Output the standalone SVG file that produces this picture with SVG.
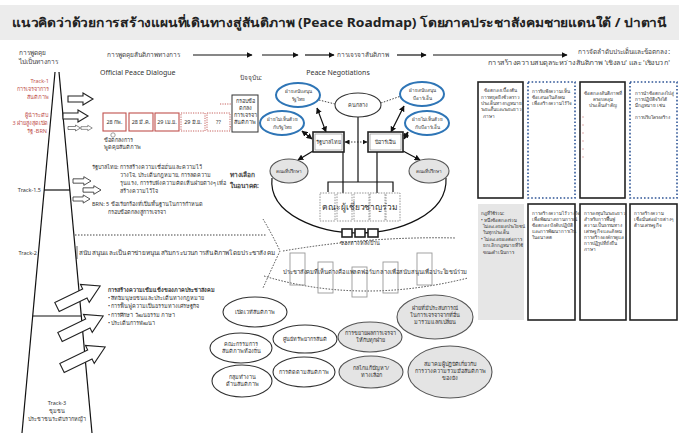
<svg xmlns="http://www.w3.org/2000/svg" width="679" height="433" viewBox="0 0 679 433">
<style>
text{font-family:"Noto Sans","DejaVu Sans",sans-serif;fill:#333;font-size:5.5px}
.ttl{font-size:12.5px;font-weight:bold;fill:#222}
.hd{font-size:7px;fill:#333}
.lb{font-size:6.5px;fill:#444}
.sm{font-size:4.6px}
.red{fill:#c0504d}
.b{font-weight:bold}
.ln{stroke:#111;stroke-width:1.2;fill:none}
.box{fill:#fff;stroke:#222;stroke-width:1.6}
.dbl{fill:#fff;stroke:#2f5597;stroke-width:1.6;stroke-dasharray:1.6 2}
.ell{fill:#fff;stroke:#333;stroke-width:1.1}
.gell{fill:#e4e4e4;stroke:#555;stroke-width:1.1}
.bell{fill:#fff;stroke:#2e75b6;stroke-width:2}
.dot{stroke:#444;stroke-width:1;stroke-dasharray:1.5 1.5;fill:none}
.ba{fill:#fff;stroke:#222;stroke-width:1.1}
.date{fill:#fff;stroke:#c0504d;stroke-width:1.1}
.dated{fill:#fff;stroke:#c0504d;stroke-width:0.9;stroke-dasharray:1.2 1.2}
.exp{fill:#fff;stroke:#888;stroke-width:0.9;stroke-dasharray:1.5 1.2}
.plank{fill:none;stroke:#999;stroke-width:0.9}
.c{text-anchor:middle}
.e{text-anchor:end}
</style>
<defs>
<marker id="ah" viewBox="0 0 10 10" refX="9" refY="5" markerWidth="5" markerHeight="5" orient="auto-start-reverse"><path d="M0,0 L10,5 L0,10 Z" fill="#111"/></marker>
<path id="blk" d="M0,-3 H15 V-6 L25,0 L15,6 V3 H0 Z"/>
<path id="blk3" d="M0,-5 H31 V-10 L48,0 L31,10 V5 H0 Z"/>
</defs>

<rect x="0" y="5" width="679" height="35" fill="#ececec"/>
<text class="ttl" x="12" y="27" textLength="655" lengthAdjust="spacingAndGlyphs">แนวคิดว่าด้วยการสร้างแผนที่เดินทางสู่สันติภาพ (Peace Roadmap) โดยภาคประชาสังคมชายแดนใต้ / ปาตานี</text>

<g id="connectors">
  <line class="ln" x1="193" y1="55" x2="252" y2="55" marker-end="url(#ah)"/>
  <line class="ln" x1="262" y1="55" x2="298" y2="55" marker-end="url(#ah)"/>
  <line class="ln" x1="305" y1="55" x2="334" y2="55" marker-end="url(#ah)"/>
  <line class="ln" x1="397" y1="55" x2="426" y2="55" marker-end="url(#ah)"/>
  <line class="ln" x1="433" y1="55" x2="567" y2="55" marker-end="url(#ah)"/>
  <line x1="220" y1="104" x2="232" y2="104" stroke="#c0504d" stroke-width="0.9" stroke-dasharray="1.2 1.2"/>
  <line x1="220" y1="127" x2="232" y2="127" stroke="#c0504d" stroke-width="0.9" stroke-dasharray="1.2 1.2"/>
  <line class="dot" x1="319" y1="100" x2="335" y2="104"/>
  <line class="dot" x1="381" y1="103" x2="401" y2="96"/>
  <line class="ln" x1="317" y1="108" x2="326" y2="132" marker-start="url(#ah)" marker-end="url(#ah)" stroke-width="1"/>
  <line class="ln" x1="302" y1="131" x2="312" y2="139" marker-start="url(#ah)" marker-end="url(#ah)" stroke-width="1"/>
  <line class="ln" x1="404" y1="106" x2="391" y2="132" marker-start="url(#ah)" marker-end="url(#ah)" stroke-width="1"/>
  <line class="ln" x1="408" y1="132" x2="404" y2="139" marker-start="url(#ah)" marker-end="url(#ah)" stroke-width="1"/>
  <line class="dot" x1="345" y1="142" x2="367" y2="142" marker-start="url(#ah)" marker-end="url(#ah)"/>
  <line class="ln" x1="298" y1="160" x2="313" y2="151" marker-start="url(#ah)" stroke-width="1"/>
  <line class="ln" x1="420" y1="160" x2="403" y2="151" marker-start="url(#ah)" stroke-width="1"/>
  <line class="ln" x1="358" y1="117" x2="358" y2="182"/>
  <path class="ln" d="M328,192 V182 H393 V192"/>
  <line class="ln" x1="343" y1="152" x2="343" y2="194"/>
  <line class="ln" x1="377" y1="152" x2="377" y2="194"/>
  <path class="ln" d="M272,178 C268,215 320,233 358,233 C398,233 448,215 446,178"/>
  <line x1="77" y1="246" x2="77" y2="259" stroke="#444" stroke-width="0.8"/>
  <line class="dot" x1="75" y1="235" x2="266" y2="235"/>
  <path class="dot" d="M263,219 Q272,234 280,251 Q271,270 263,288"/>
  <path class="dot" d="M283,251 Q370,236 456,238"/>
  <path class="dot" d="M264,276 Q360,305 468,278"/>
</g>

<g id="tracks">
  <line class="ln" x1="55" y1="72" x2="22" y2="433"/>
  <line class="ln" x1="59" y1="72" x2="92" y2="433"/>
  <line class="ln" x1="44" y1="190" x2="70" y2="190"/>
  <line class="ln" x1="33" y1="316" x2="81" y2="316"/>
  <text class="lb" x="19" y="55">การพูดคุย</text>
  <text class="lb" x="19" y="64">ไม่เป็นทางการ</text>
  <text class="red e" x="49" y="83">Track-1</text>
  <text class="red e" x="49" y="91">การเจรจาการ</text>
  <text class="red e" x="49" y="99">สันติภาพ</text>
  <text class="red e" x="48" y="117">ผู้นำระดับ</text>
  <text class="red e" x="48" y="125">3 ฝ่ายสูงสุดเปิด</text>
  <text class="red e" x="47" y="133">รัฐ -BRN</text>
  <text class="e" x="41" y="192">Track-1.5</text>
  <text class="e" x="37" y="255">Track-2</text>
  <text class="c" x="57" y="405">Track-3</text>
  <text class="c" x="57" y="413">ชุมชน</text>
  <text class="c" x="57" y="421">ประชาชนระดับรากหญ้า</text>
  <use href="#blk" class="ba" transform="translate(68,99)"/>
  <use href="#blk" class="ba" transform="translate(63,116)"/>
  <use href="#blk" class="ba" transform="translate(68,128) scale(0.5)"/>
  <use href="#blk" class="ba" transform="translate(81,128) scale(0.45)"/>
  <use href="#blk" class="ba" transform="translate(73,181) scale(0.72)"/>
  <use href="#blk" class="ba" transform="translate(83,190) scale(0.72)"/>
  <use href="#blk" class="ba" transform="translate(73,199) scale(0.68)"/>
  <use href="#blk3" class="ba" transform="translate(57,307) rotate(-26)"/>
  <use href="#blk3" class="ba" transform="translate(60,337) rotate(-26)"/>
  <use href="#blk3" class="ba" transform="translate(62,368) rotate(-26)"/>
</g>

<g id="timeline-labels">
  <text class="lb" x="107" y="57">การพูดคุยสันติภาพทางการ</text>
  <text class="lb" x="337" y="57">การเจรจาสันติภาพ</text>
  <text class="lb e" x="670" y="54">การจัดลำดับประเด็นและข้อตกลง :</text>
  <text class="lb e" x="670" y="65" textLength="182" lengthAdjust="spacingAndGlyphs">การสร้างความสมดุลระหว่างสันติภาพ 'เชิงลบ' และ 'เชิงบวก'</text>
</g>

<g id="official-dialogue">
  <text class="hd" x="100" y="75">Official Peace Dialogue</text>
  <rect class="date" x="103" y="113" width="23" height="18" stroke-width="1.3"/>
  <rect class="date" x="129" y="113" width="24" height="18"/>
  <rect class="date" x="155" y="113" width="24" height="18" stroke-width="1.5"/>
  <rect class="dated" x="181" y="113" width="24" height="18"/>
  <rect class="dated" x="207" y="113" width="23" height="18"/>
  <text class="c" x="114.5" y="124">28 กพ.</text>
  <text class="c" x="141" y="124">28 มี.ค.</text>
  <text class="c" x="167" y="124">29 เม.ย.</text>
  <text class="c" x="193" y="124">29 มิ.ย.</text>
  <text class="c" x="218.5" y="124">??</text>
  <circle cx="113" cy="135" r="2.2" fill="none" stroke="#777" stroke-width="0.7"/>
  <text x="104" y="142">ข้อตกลงการ</text>
  <text x="104" y="149">พูดคุยสันติภาพ</text>
</g>

<g id="current-framework">
  <text class="lb" x="240" y="80">ปัจจุบัน:</text>
  <rect x="232" y="95" width="26" height="37" fill="#fff" stroke="#333" stroke-width="1"/>
  <text class="c" x="245" y="103">กรอบข้อ</text>
  <text class="c" x="245" y="110">ตกลง</text>
  <text class="c" x="245" y="117">การเจรจา</text>
  <text class="c" x="245" y="124">สันติภาพ</text>
</g>

<g id="state-positions">
  <text x="92" y="169">รัฐบาลไทย: การสร้างความเชื่อมั่นและความไว้</text>
  <text x="120" y="177">วางใจ, ประเด็นกฎหมาย, การลดความ</text>
  <text x="120" y="185">รุนแรง, การรับฟังความคิดเห็นฝ่ายต่างๆ เพื่อ</text>
  <text x="120" y="193">สร้างความไว้ใจ</text>
  <text x="92" y="206">BRN: 5 ข้อเรียกร้องที่เป็นพื้นฐานในการกำหนด</text>
  <text x="108" y="214">กรอบข้อตกลงสู่การเจรจา</text>
</g>

<g id="future-options">
  <text class="lb b" x="230" y="177">ทางเลือก</text>
  <text class="lb b" x="230" y="188">ในอนาคต:</text>
</g>

<g id="peace-negotiations">
  <text class="hd c" x="338" y="75">Peace Negotiations</text>
</g>
<g id="mediator">
  <ellipse class="ell" cx="358" cy="105" rx="23" ry="12" stroke-width="1.5"/>
  <text class="c" x="358" y="107">คนกลาง</text>
</g>
<g id="support-thai">
  <ellipse class="bell" cx="298" cy="95" rx="22" ry="12"/>
  <text class="c sm" x="298" y="93">ฝ่ายสนับสนุน</text><text class="c sm" x="298" y="100.5">รัฐไทย</text>
</g>
<g id="oppose-thai">
  <ellipse class="bell" cx="282" cy="123" rx="22" ry="12"/>
  <text class="c sm" x="282" y="121">ฝ่ายไม่เห็นด้วย</text><text class="c sm" x="282" y="128.5">กับรัฐไทย</text>
</g>
<g id="support-brn">
  <ellipse class="bell" cx="422" cy="94" rx="22" ry="12"/>
  <text class="c sm" x="422" y="92">ฝ่ายสนับสนุน</text><text class="c sm" x="422" y="99.5">บีอาร์เอ็น</text>
</g>
<g id="oppose-brn">
  <ellipse class="bell" cx="427" cy="123" rx="22" ry="12"/>
  <text class="c sm" x="427" y="121">ฝ่ายไม่เห็นด้วย</text><text class="c sm" x="427" y="128.5">กับบีอาร์เอ็น</text>
</g>
<g id="thai-gov">
  <rect class="box" x="313" y="132" width="31" height="20"/>
  <rect x="315" y="134" width="27" height="16" fill="none" stroke="#666" stroke-width="0.5"/>
  <text class="c" x="328.5" y="144">รัฐบาลไทย</text>
</g>
<g id="brn">
  <rect class="box" x="368" y="132" width="35" height="20"/>
  <rect x="370" y="134" width="31" height="16" fill="none" stroke="#666" stroke-width="0.5"/>
  <text class="c" x="385.5" y="144">บีอาร์เอ็น</text>
</g>
<g id="advisors-left">
  <ellipse class="gell" cx="289" cy="171" rx="19" ry="12"/>
  <text class="c sm" x="289" y="173">คณะที่ปรึกษา</text>
</g>
<g id="advisors-right">
  <ellipse class="gell" cx="429" cy="171" rx="20" ry="12"/>
  <text class="c sm" x="429" y="173">คณะที่ปรึกษา</text>
</g>
<g id="experts">
  <rect class="exp" x="320" y="193" width="15" height="28"/>
  <rect class="exp" x="337" y="193" width="15" height="28"/>
  <rect class="exp" x="354" y="193" width="15" height="28"/>
  <rect class="exp" x="370" y="193" width="15" height="28"/>
  <rect class="exp" x="386" y="193" width="14" height="28"/>
  <text class="c" x="360" y="210" style="font-size:8.5px" textLength="76" lengthAdjust="spacingAndGlyphs">คณะผู้เชี่ยวชาญร่วม</text>
</g>
<g id="back-channel">
  <rect class="box" x="342" y="229" width="10" height="8" stroke-width="1.3"/>
  <rect class="box" x="355" y="229" width="10" height="8" stroke-width="1.3"/>
  <rect class="box" x="368" y="229" width="10" height="8" stroke-width="1.3"/>
  <text class="c" x="360" y="245">ช่องทางหลังบ้าน</text>
</g>

<g id="track2-text">
  <text x="79" y="255" style="font-size:6px" textLength="196" lengthAdjust="spacingAndGlyphs">สนับสนุนและเป็นตาข่ายหนุนเสริมกระบวนการสันติภาพโดยประชาสังคม</text>
</g>
<g id="civil-platform">
  <rect class="plank" x="290" y="253" width="15" height="32"/>
  <rect class="plank" x="318" y="262" width="15" height="31"/>
  <rect class="plank" x="352" y="267" width="15" height="30"/>
  <rect class="plank" x="383" y="262" width="15" height="31"/>
  <rect class="plank" x="417" y="253" width="15" height="32"/>
  <text x="283" y="274" style="font-size:6px" textLength="184" lengthAdjust="spacingAndGlyphs">ประชาสังคมที่เห็นต่างคือแพลตฟอร์มกลางเพื่อสนับสนุนเพื่อประโยชน์ร่วม</text>
</g>

<g id="civil-strength">
  <text x="108" y="292" class="b">การสร้างความเข้มแข็งของภาคประชาสังคม</text>
  <text x="108" y="300">• สิทธิมนุษยชนและประเด็นทางกฎหมาย</text>
  <text x="108" y="308">• การฟื้นฟูความเป็นธรรมทางเศรษฐกิจ</text>
  <text x="108" y="317">• การศึกษา วัฒนธรรม ภาษา</text>
  <text x="108" y="325">• ประเด็นการพัฒนา</text>
</g>

<g id="e1"><ellipse class="ell" cx="255" cy="312" rx="32" ry="15"/><text class="c" x="255" y="314">เปิดเวทีสันติภาพ</text></g>
<g id="e2"><ellipse class="ell" cx="241" cy="348" rx="31" ry="15"/><text class="c" x="241" y="346">คณะกรรมการ</text><text class="c" x="241" y="353">สันติภาพท้องถิ่น</text></g>
<g id="e3"><ellipse class="ell" cx="242" cy="381" rx="30" ry="16"/><text class="c" x="242" y="379">กลุ่มทำงาน</text><text class="c" x="242" y="386">ด้านสันติภาพ</text></g>
<g id="e4"><ellipse class="ell" cx="305" cy="339" rx="32" ry="14"/><text class="c" x="305" y="341">ศูนย์ทรัพยากรสันติ</text></g>
<g id="e5"><ellipse class="ell" cx="304" cy="372" rx="31" ry="15"/><text class="c" x="304" y="374">การติดตามสันติภาพ</text></g>
<g id="e6"><ellipse class="gell" cx="370" cy="337" rx="32" ry="15"/><text class="c" x="370" y="335">การขยายผลการเจรจา</text><text class="c" x="370" y="342">ให้กับทุกฝ่าย</text></g>
<g id="e7"><ellipse class="gell" cx="371" cy="372" rx="32" ry="16"/><text class="c" x="371" y="370">กลไกแก้ปัญหา/</text><text class="c" x="371" y="377">ทางเลือก</text></g>
<g id="e8"><ellipse class="gell" cx="435" cy="317" rx="38" ry="22"/><text class="c" x="435" y="310">ฝ่ายที่มีประสบการณ์</text><text class="c" x="435" y="317">ในการเจรจาจากที่อื่น</text><text class="c" x="435" y="324">มาร่วมแลกเปลี่ยน</text></g>
<g id="e9"><ellipse class="gell" cx="450" cy="372" rx="42" ry="26"/><text class="c" x="450" y="366">สมาคมผู้ปฏิบัติเกี่ยวกับ</text><text class="c" x="450" y="373">การวางความร่วมมือสันติภาพ</text><text class="c" x="450" y="380">ของยัง</text></g>

<g id="r1"><rect class="box" x="478" y="82" width="45" height="116"/>
  <text class="c sm" x="500.5" y="92">ข้อตกลงเบื้องต้น</text>
  <text class="sm" x="481" y="99">การหยุดยิงชั่วคราว</text>
  <text class="sm" x="481" y="105">ประเด็นทางกฎหมาย</text>
  <text class="sm" x="481" y="111">ระยะสั้นและระยะยาว</text>
  <text class="sm" x="483" y="118">ภาษา</text></g>
<g id="r2"><rect class="dbl" x="528" y="82" width="47" height="116"/>
  <text class="sm" x="532" y="93">การรับฟังความเห็น</text>
  <text class="sm" x="532" y="99">ข้อเสนอในสังคม</text>
  <text class="sm" x="532" y="105">เพื่อสร้างความไว้ใจ</text></g>
<g id="r3"><rect class="box" x="580" y="82" width="45" height="116"/>
  <text class="c sm" x="602.5" y="95">ข้อตกลงสันติภาพที่</text>
  <text class="c sm" x="602.5" y="101">ครอบคลุม</text>
  <text class="c sm" x="602.5" y="107">ประเด็นสำคัญ</text>
  <path d="M582,117h2M582,125h2M582,133h2M582,141h2M582,149h2M582,157h2" stroke="#c77" stroke-width="0.6"/></g>
<g id="r4"><rect class="dbl" x="630" y="82" width="47" height="116"/>
  <text class="sm" x="635" y="95">การนำข้อตกลงไปสู่</text>
  <text class="sm" x="635" y="101">การปฏิบัติจริงได้</text>
  <text class="sm" x="635" y="107">มีกฎหมาย เช่น</text>
  <text class="sm" x="635" y="119">การปรับโครงสร้าง</text></g>

<g id="r5"><rect x="478" y="204" width="46" height="116" fill="#e6e6e6"/>
  <text class="sm" x="481" y="215">กฎที่ใช้ร่วม:</text>
  <text class="sm" x="481" y="222">• หนึ่งข้อตกลงร่วม</text>
  <text class="sm" x="483" y="228">ไม่ละเลยผลประโยชน์</text>
  <text class="sm" x="483" y="234">ในทุกประเด็น</text>
  <text class="sm" x="481" y="241">• ไม่ละเลยผลต่อการ</text>
  <text class="sm" x="483" y="247">ยกเลิกกฎหมายที่ใช้</text>
  <text class="sm" x="483" y="254">ขณะดำเนินการ</text></g>
<g id="r6"><rect class="box" x="528" y="204" width="47" height="116"/>
  <text class="sm" x="532" y="215">การสร้างความไว้วางใจ</text>
  <text class="sm" x="532" y="221">เพื่อพัฒนาสถานการณ์</text>
  <text class="sm" x="532" y="227">ข้อตกลง บังคับปฏิบัติ</text>
  <text class="sm" x="532" y="233">และการพัฒนาการเงิน</text>
  <text class="sm" x="532" y="239">ในอนาคต</text></g>
<g id="r7"><rect class="box" x="580" y="204" width="46" height="116"/>
  <text class="sm" x="584" y="215">การลงทุนในระยะยาว</text>
  <text class="sm" x="584" y="221">สำหรับการฟื้นฟู</text>
  <text class="sm" x="584" y="227">ความเป็นธรรมทาง</text>
  <text class="sm" x="584" y="233">เศรษฐกิจและสังคม</text>
  <text class="sm" x="584" y="239">การสร้างองค์กรดูแล</text>
  <text class="sm" x="584" y="245">การปฏิรูปที่ยั่งยืน</text>
  <text class="sm" x="584" y="251">ภาษา</text></g>
<g id="r8"><rect class="box" x="630" y="204" width="47" height="116"/>
  <text class="sm" x="634" y="215">การสร้างความ</text>
  <text class="sm" x="634" y="221">เชื่อมั่นต่อฝ่ายต่างๆ</text>
  <text class="sm" x="634" y="227">ด้านเศรษฐกิจ</text></g>
</svg>
